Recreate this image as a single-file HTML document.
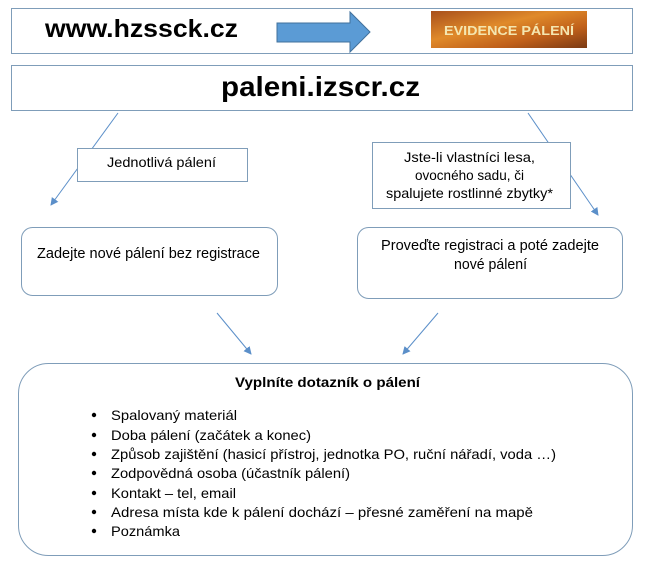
<!DOCTYPE html>
<html><head><meta charset="utf-8"><style>
html,body{margin:0;padding:0;background:#fff;}
svg{display:block;}
text{font-family:"Liberation Sans",Arial,sans-serif;fill:#000;}
</style></head><body>
<svg width="645" height="568" viewBox="0 0 645 568" xmlns="http://www.w3.org/2000/svg">
<defs>
<marker id="ah" markerWidth="8" markerHeight="8" refX="7" refY="4" orient="auto" markerUnits="userSpaceOnUse">
<path d="M0,0 L8,4 L0,8 z" fill="#5b8fc9"/></marker>
<linearGradient id="fire" x1="0" y1="0" x2="1" y2="1">
<stop offset="0" stop-color="#a8501c"/><stop offset="0.4" stop-color="#e08a2a"/><stop offset="0.7" stop-color="#c0601a"/><stop offset="1" stop-color="#7a3a14"/></linearGradient>
</defs>
<rect x="11.5" y="8.5" width="621" height="45" fill="#fff" stroke="#7f9db9" stroke-width="1"/>
<text x="45" y="37" font-size="25" font-weight="bold" textLength="193" lengthAdjust="spacingAndGlyphs">www.hzssck.cz</text>
<path d="M277,23 H350 V12 L370,32 L350,52 V42 H277 Z" fill="#5b9bd5" stroke="#41719c" stroke-width="1"/>
<rect x="431" y="11" width="156" height="37" fill="url(#fire)"/>
<text x="509" y="35" font-size="13" font-weight="bold" text-anchor="middle" textLength="130" lengthAdjust="spacingAndGlyphs" style="fill:#f4e6b0">EVIDENCE PÁLENÍ</text>
<rect x="11.5" y="65.5" width="621" height="45" fill="#fff" stroke="#7f9db9" stroke-width="1"/>
<text x="221" y="96" font-size="28" font-weight="bold" textLength="199" lengthAdjust="spacingAndGlyphs">paleni.izscr.cz</text>
<g stroke="#5b8fc9" stroke-width="1" fill="none">
<line x1="118" y1="113" x2="51" y2="205" marker-end="url(#ah)"/>
<line x1="528" y1="113" x2="598" y2="215" marker-end="url(#ah)"/>
<line x1="217" y1="313" x2="251" y2="354" marker-end="url(#ah)"/>
<line x1="438" y1="313" x2="403" y2="354" marker-end="url(#ah)"/>
</g>
<rect x="77.5" y="148.5" width="170" height="33" fill="#fff" stroke="#7f9db9"/>
<text x="107" y="167" font-size="14" textLength="109" lengthAdjust="spacingAndGlyphs">Jednotlivá pálení</text>
<rect x="372.5" y="142.5" width="198" height="66" fill="#fff" stroke="#7f9db9"/>
<text x="404" y="162" font-size="14" textLength="131" lengthAdjust="spacingAndGlyphs">Jste-li vlastníci lesa,</text>
<text x="415" y="180" font-size="14" textLength="109" lengthAdjust="spacingAndGlyphs">ovocného sadu, či</text>
<text x="386" y="198" font-size="14" textLength="167" lengthAdjust="spacingAndGlyphs">spalujete rostlinné zbytky*</text>
<rect x="21.5" y="227.5" width="256" height="68" rx="11" fill="#fff" stroke="#7f9db9"/>
<text x="37" y="258" font-size="15" textLength="223" lengthAdjust="spacingAndGlyphs">Zadejte nové pálení bez registrace</text>
<rect x="357.5" y="227.5" width="265" height="71" rx="11" fill="#fff" stroke="#7f9db9"/>
<text x="381" y="250" font-size="15" textLength="218" lengthAdjust="spacingAndGlyphs">Proveďte registraci a poté zadejte</text>
<text x="454" y="269" font-size="15" textLength="73" lengthAdjust="spacingAndGlyphs">nové pálení</text>
<rect x="18.5" y="363.5" width="614" height="192" rx="30" fill="#fff" stroke="#7f9db9"/>
<text x="235" y="387" font-size="14" font-weight="bold" textLength="185" lengthAdjust="spacingAndGlyphs">Vyplníte dotazník o pálení</text>
<g font-size="14">
<text x="111" y="420" textLength="126" lengthAdjust="spacingAndGlyphs">Spalovaný materiál</text>
<text x="111" y="440" textLength="200" lengthAdjust="spacingAndGlyphs">Doba pálení (začátek a konec)</text>
<text x="111" y="459" textLength="445" lengthAdjust="spacingAndGlyphs">Způsob zajištění (hasicí přístroj, jednotka PO, ruční nářadí, voda …)</text>
<text x="111" y="478" textLength="239" lengthAdjust="spacingAndGlyphs">Zodpovědná osoba (účastník pálení)</text>
<text x="111" y="498" textLength="125" lengthAdjust="spacingAndGlyphs">Kontakt – tel, email</text>
<text x="111" y="517" textLength="422" lengthAdjust="spacingAndGlyphs">Adresa místa kde k pálení dochází – přesné zaměření na mapě</text>
<text x="111" y="536" textLength="69" lengthAdjust="spacingAndGlyphs">Poznámka</text>
</g>
<g fill="#000">
<circle cx="94" cy="415" r="2.2"/><circle cx="94" cy="435" r="2.2"/><circle cx="94" cy="454" r="2.2"/><circle cx="94" cy="473" r="2.2"/><circle cx="94" cy="493" r="2.2"/><circle cx="94" cy="512" r="2.2"/><circle cx="94" cy="531" r="2.2"/>
</g>
</svg>
</body></html>
